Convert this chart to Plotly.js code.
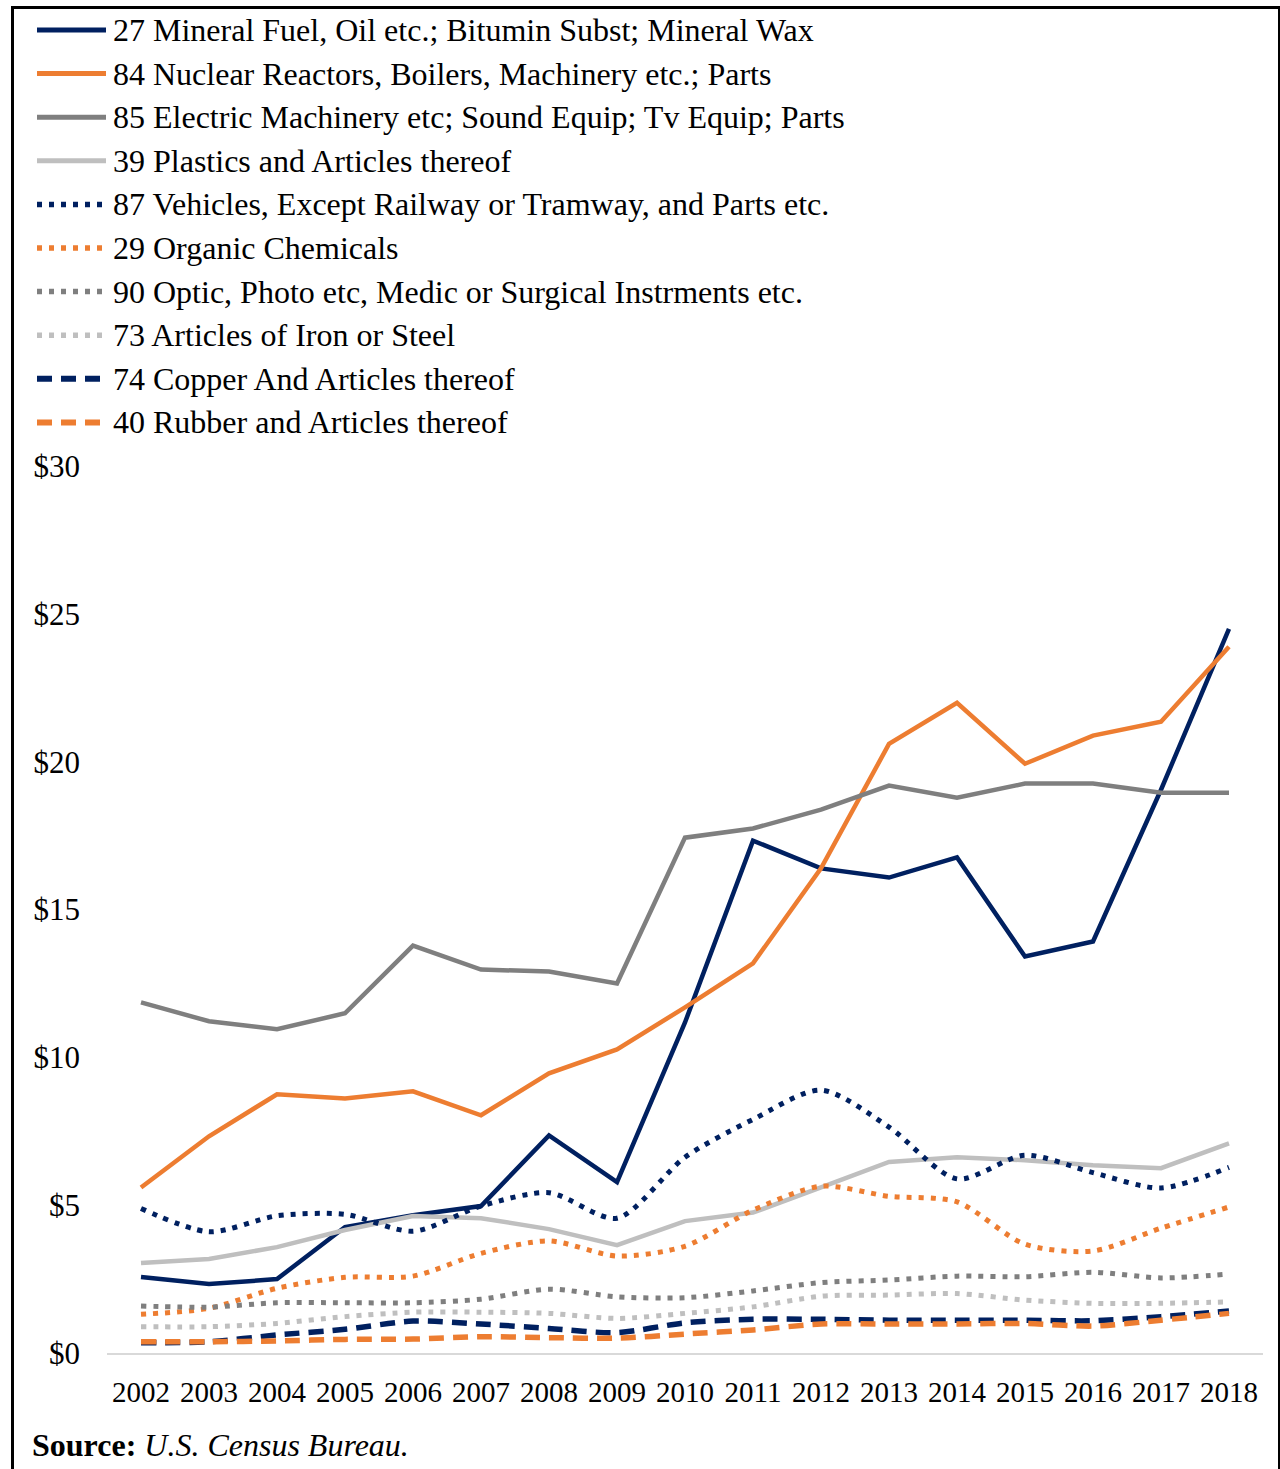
<!DOCTYPE html>
<html>
<head>
<meta charset="utf-8">
<script src="https://cdn.plot.ly/plotly-3.0.1.min.js"></script>
<style>
  html, body { margin: 0; padding: 0; background: #ffffff; }
  #wrap { position: relative; width: 1280px; height: 1469px; overflow: hidden; }
  #chart { position: absolute; left: 0; top: 0; width: 1280px; height: 1469px; }
  #frame { position: absolute; left: 11px; top: 6px; width: 1264px; height: 1480px;
           border: 3px solid #000; border-bottom: none; pointer-events: none; }
</style>
</head>
<body>
<div id="wrap">
  <div id="chart"></div>
  <div id="frame"></div>
</div>
<script>
// ---- Data (billions of US$) ----
const years = [2002, 2003, 2004, 2005, 2006, 2007, 2008, 2009, 2010, 2011, 2012, 2013, 2014, 2015, 2016, 2017, 2018];

const seriesNames = [
  "27 Mineral Fuel, Oil etc.; Bitumin Subst; Mineral Wax",
  "84 Nuclear Reactors, Boilers, Machinery etc.; Parts",
  "85 Electric Machinery etc; Sound Equip; Tv Equip; Parts",
  "39 Plastics and Articles thereof",
  "87 Vehicles, Except Railway or Tramway, and Parts etc.",
  "29 Organic Chemicals",
  "90 Optic, Photo etc, Medic or Surgical Instrments etc.",
  "73 Articles of Iron or Steel",
  "74 Copper And Articles thereof",
  "40 Rubber and Articles thereof"
];

const mineralFuel   = [2.57, 2.33, 2.50, 4.26, 4.66, 4.97, 7.36, 5.78, 11.18, 17.33, 16.39, 16.08, 16.76, 13.41, 13.92, 19.05, 24.49];
const nuclearMach   = [5.60, 7.33, 8.75, 8.61, 8.85, 8.04, 9.46, 10.27, 11.69, 13.18, 16.39, 20.60, 21.99, 19.93, 20.88, 21.35, 23.89];
const electricMach  = [11.86, 11.22, 10.95, 11.49, 13.78, 12.97, 12.90, 12.50, 17.43, 17.74, 18.38, 19.19, 18.78, 19.26, 19.26, 18.95, 18.95];
const plastics      = [3.04, 3.18, 3.58, 4.16, 4.63, 4.56, 4.19, 3.65, 4.46, 4.75, 5.60, 6.46, 6.62, 6.52, 6.35, 6.25, 7.09];
const vehicles      = [4.89, 4.10, 4.64, 4.69, 4.12, 4.97, 5.42, 4.56, 6.62, 7.90, 8.89, 7.64, 5.89, 6.69, 6.10, 5.58, 6.28];
const organicChem   = [1.31, 1.51, 2.19, 2.56, 2.60, 3.37, 3.79, 3.28, 3.61, 4.83, 5.64, 5.30, 5.11, 3.68, 3.45, 4.22, 4.94];
const opticPhoto    = [1.59, 1.55, 1.70, 1.70, 1.70, 1.82, 2.16, 1.90, 1.87, 2.10, 2.38, 2.47, 2.60, 2.58, 2.73, 2.54, 2.67];
const ironSteel     = [0.89, 0.89, 1.00, 1.23, 1.38, 1.38, 1.34, 1.17, 1.34, 1.56, 1.92, 1.96, 2.01, 1.79, 1.68, 1.68, 1.73];
const copper        = [0.35, 0.38, 0.61, 0.80, 1.08, 0.98, 0.83, 0.69, 1.02, 1.14, 1.14, 1.11, 1.11, 1.11, 1.09, 1.23, 1.42];
const rubber        = [0.38, 0.38, 0.41, 0.46, 0.47, 0.55, 0.52, 0.50, 0.64, 0.78, 0.98, 0.98, 0.98, 1.00, 0.91, 1.11, 1.34];

const yTickVals = [0, 5, 10, 15, 20, 25, 30];
const yTickText = ["$0", "$5", "$10", "$15", "$20", "$25", "$30"];
const sourceText = "<b>Source:</b> <i>U.S. Census Bureau.</i>";

// ---- Styles ----
const NAVY = "#002060", ORANGE = "#ed7d31", GRAY = "#7f7f7f", LGRAY = "#bfbfbf";
const DOT = "5px,7px", DASH = "15px,9px";
const seriesValues = [mineralFuel, nuclearMach, electricMach, plastics, vehicles, organicChem, opticPhoto, ironSteel, copper, rubber];
const styles = [
  {color: NAVY,   dash: "solid", width: 4.5, shape: "linear"},
  {color: ORANGE, dash: "solid", width: 4.5, shape: "linear"},
  {color: GRAY,   dash: "solid", width: 4.5, shape: "linear"},
  {color: LGRAY,  dash: "solid", width: 4.5, shape: "linear"},
  {color: NAVY,   dash: DOT,     width: 5,   shape: "spline"},
  {color: ORANGE, dash: DOT,     width: 5,   shape: "spline"},
  {color: GRAY,   dash: DOT,     width: 5,   shape: "spline"},
  {color: LGRAY,  dash: DOT,     width: 5,   shape: "spline"},
  {color: NAVY,   dash: DASH,    width: 5.5, shape: "spline"},
  {color: ORANGE, dash: DASH,    width: 5.5, shape: "spline"}
];

const FONT = '"Liberation Serif", "Times New Roman", Times, serif';

// ---- Geometry ----
const W = 1280, H = 1469;
const M = {l: 107, r: 17, t: 466, b: 116};
const plotW = W - M.l - M.r, plotH = H - M.t - M.b;
const px2x = p => (p - M.l) / plotW;
const px2y = p => (H - M.b - p) / plotH;

const traces = seriesValues.map((vals, i) => ({
  type: "scatter",
  mode: "lines",
  x: years,
  y: vals,
  name: seriesNames[i],
  showlegend: false,
  hoverinfo: "skip",
  line: {color: styles[i].color, dash: styles[i].dash, width: styles[i].width, shape: styles[i].shape, smoothing: 0.8}
}));

// Custom legend (longer line samples, as in the reference)
const legendRow0 = 30, legendStep = 43.6;
const shapes = [];
const annotations = [];
seriesNames.forEach((nm, i) => {
  const yy = px2y(legendRow0 + i * legendStep);
  shapes.push({
    type: "line", xref: "paper", yref: "paper",
    x0: px2x(37), x1: px2x(106), y0: yy, y1: yy,
    line: {color: styles[i].color, dash: styles[i].dash, width: styles[i].width + 0.5}
  });
  annotations.push({
    xref: "paper", yref: "paper", x: px2x(111), y: yy,
    xanchor: "left", yanchor: "middle", showarrow: false,
    text: nm, font: {family: FONT, size: 32, color: "#000"}
  });
});
annotations.push({
  xref: "paper", yref: "paper", x: px2x(30), y: px2y(1445),
  xanchor: "left", yanchor: "middle", showarrow: false,
  text: sourceText, font: {family: FONT, size: 32, color: "#000"}
});

const layout = {
  width: W, height: H,
  margin: M,
  paper_bgcolor: "#ffffff",
  plot_bgcolor: "#ffffff",
  showlegend: false,
  font: {family: FONT, color: "#000"},
  xaxis: {
    type: "linear",
    range: [years[0] - 0.5, years[years.length - 1] + 0.5],
    tickvals: years,
    ticktext: years.map(String),
    tickangle: 0,
    showgrid: false, zeroline: false,
    showline: true, linecolor: "#d9d9d9", linewidth: 2,
    ticks: "",
    ticklabelstandoff: 12,
    tickfont: {family: FONT, size: 29, color: "#000"},
    fixedrange: true
  },
  yaxis: {
    range: [0, 30],
    tickvals: yTickVals,
    ticktext: yTickText,
    showgrid: false, zeroline: false, showline: false,
    ticks: "",
    ticklabelstandoff: 26,
    tickfont: {family: FONT, size: 31, color: "#000"},
    fixedrange: true
  },
  shapes: shapes,
  annotations: annotations
};

Plotly.newPlot("chart", traces, layout, {displayModeBar: false, staticPlot: true});
</script>
</body>
</html>
